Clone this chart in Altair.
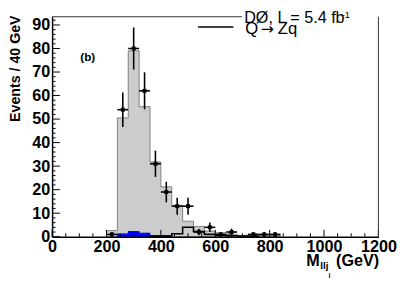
import altair as alt
import numpy as np
import pandas as pd

BIN = 40
# background (gray) histogram: bin starts and heights
bkg_start = [200, 240, 280, 320, 360, 400, 440, 480, 520, 560, 600, 640, 680, 720, 760, 800]
bkg_vals = [2.6, 50.5, 79.0, 55.3, 31.8, 21.2, 13.3, 6.6, 4.3, 2.4, 1.7, 1.0, 0.6, 0.6, 0.5, 0.5]
# blue component
blue_start = [240, 280, 320, 360, 400]
blue_vals = [1.2, 2.2, 1.5, 0.5, 0.4]
# signal Q -> Zq (black outline)
sig_start = [360, 400, 440, 480, 520, 560, 600, 640, 680, 720]
sig_vals = [0.2, 0.3, 1.3, 4.0, 2.2, 1.0, 0.6, 0.4, 0.3, 0.2]
# data points (bin centres, counts)
data_x = [220, 260, 300, 340, 380, 420, 460, 500, 540, 580, 620, 660, 740, 780, 820]
data_n = [1, 54, 80, 62, 31, 19, 13, 13, 2, 4, 1, 2, 1, 1, 1]
# ticks
x_major = [0, 200, 400, 600, 800, 1000, 1200]
x_minor = [v for v in range(0, 1201, 50) if v % 200 != 0]
y_major = [0, 10, 20, 30, 40, 50, 60, 70, 80, 90]
y_minor = [v for v in range(0, 93, 2) if v % 10 != 0]

W, H = 333, 224.5
FONT = "Liberation Sans"

xs = alt.Scale(domain=[0, 1200], nice=False, zero=False)
ys = alt.Scale(domain=[0, 93.5], nice=False)

xaxis = alt.Axis(values=x_major, labelFont=FONT, labelFontWeight="bold", labelFontSize=16.5,
                 labelColor="black", ticks=False, tickSize=0, domainColor="black", domainWidth=1.5,
                 labelPadding=2, grid=False, title=None, labelFlush=False, labelOverlap=False,
                 format="d", zindex=1)
yaxis = alt.Axis(values=y_major, labelFont=FONT, labelFontWeight="bold", labelFontSize=16.5,
                 labelColor="black", ticks=False, tickSize=0, domainColor="black", domainWidth=1.5,
                 labelPadding=2.5, grid=False, title=None, labelFlush=False, labelOverlap=False,
                 format="d", zindex=1)


def X(field):
    return alt.X(field, scale=xs, axis=xaxis)


def Y(field):
    return alt.Y(field, scale=ys, axis=yaxis)


def area_df(starts, vals):
    return pd.DataFrame({"x": starts + [starts[-1] + BIN], "y": vals + [vals[-1]]})


def line_df(starts, vals):
    end = starts[-1] + BIN
    xv = [starts[0]] + starts + [end, end]
    yv = [0] + vals + [vals[-1], 0]
    return pd.DataFrame({"x": xv, "y": yv, "i": list(range(len(xv)))})


gray = alt.Chart(area_df(bkg_start, bkg_vals)).mark_area(
    interpolate="step-after", fill="#cccccc", stroke="#808080", strokeWidth=1
).encode(x=X("x:Q"), y=Y("y:Q"))

blue = alt.Chart(area_df(blue_start, blue_vals)).mark_area(
    interpolate="step-after", fill="#0000ff", stroke="#0000ff", strokeWidth=1
).encode(x=X("x:Q"), y=Y("y:Q"))

sig = alt.Chart(line_df(sig_start, sig_vals)).mark_line(
    interpolate="step-after", color="black", strokeWidth=1.6
).encode(x=X("x:Q"), y=Y("y:Q"), order="i:Q")

pts = pd.DataFrame({"x": data_x, "n": data_n})
pts["err"] = np.sqrt(pts["n"])
pts["lo"] = pts["n"] - pts["err"]
pts["hi"] = pts["n"] + pts["err"]
pts["xl"] = pts["x"] - BIN / 2
pts["xh"] = pts["x"] + BIN / 2

vbar = alt.Chart(pts).mark_rule(color="black", strokeWidth=1.6).encode(
    x=X("x:Q"), y=Y("lo:Q"), y2="hi:Q")
hbar = alt.Chart(pts).mark_rule(color="black", strokeWidth=1.6).encode(
    x=X("xl:Q"), x2="xh:Q", y=Y("n:Q"))
marks = alt.Chart(pts).mark_square(size=16, color="black", opacity=1).encode(
    x=X("x:Q"), y=Y("n:Q"))

xt_major = alt.Chart(pd.DataFrame({"x": x_major})).mark_rule(color="black", strokeWidth=1).encode(
    x=X("x:Q"), y=alt.value(H), y2=alt.value(H - 7))
xt_minor = alt.Chart(pd.DataFrame({"x": x_minor})).mark_rule(color="black", strokeWidth=1).encode(
    x=X("x:Q"), y=alt.value(H), y2=alt.value(H - 3.5))
yt_major = alt.Chart(pd.DataFrame({"y": y_major})).mark_rule(color="black", strokeWidth=1).encode(
    y=Y("y:Q"), x=alt.value(0), x2=alt.value(8))
yt_minor = alt.Chart(pd.DataFrame({"y": y_minor})).mark_rule(color="black", strokeWidth=1).encode(
    y=Y("y:Q"), x=alt.value(0), x2=alt.value(3.5))

one = pd.DataFrame({"a": [0]})
top_line = alt.Chart(one).mark_rule(color="#333333", strokeWidth=1).encode(
    x=alt.value(0), x2=alt.value(194), y=alt.value(0))
# white legend box hiding the frame's top edge behind the legend
leg_box = alt.Chart(one).mark_rect(color="white").encode(
    x=alt.value(194), x2=alt.value(W - 0.6), y=alt.value(-2), y2=alt.value(2))
right_line = alt.Chart(one).mark_rule(color="#333333", strokeWidth=1).encode(
    x=alt.value(W), y=alt.value(0), y2=alt.value(H))
leg_line = alt.Chart(one).mark_rule(color="black", strokeWidth=1.5).encode(
    x=alt.value(149), x2=alt.value(185), y=alt.value(10.5))


def txt(s, x, y, size, weight="normal", align="left", angle=0, baseline="alphabetic", font=FONT):
    return alt.Chart(one).mark_text(
        font=font, fontSize=size, fontWeight=weight, align=align, baseline=baseline,
        angle=angle, color="black"
    ).encode(x=alt.value(x), y=alt.value(y), text=alt.value(s))


texts = [
    txt("Events / 40 GeV", -33, -1.3, 14.5, "bold", align="right", angle=270),
    txt("(b)", 28.7, 45.2, 12, "bold"),
    txt("DØ, L = 5.4 fb", 196, 6.0, 16.5),
    txt("-1", 295.5, 1.5, 9.5),
    txt("Q", 197, 17.5, 17),
    txt("→", 219.5, 17.5, 16, align="center", font="DejaVu Sans"),
    txt("Zq", 230.3, 17.5, 17),
    txt("M", 259.3, 254.7, 16.5, "bold"),
    txt("llj", 273.7, 257.5, 10, "bold"),
    txt("i", 282, 266.5, 7, "bold"),
    txt("(GeV)", 333.7, 254.7, 16.5, "bold", align="right"),
]

chart = alt.layer(
    gray, blue, sig, vbar, hbar, marks,
    xt_major, xt_minor, yt_major, yt_minor, top_line, leg_box, right_line, leg_line, *texts
).properties(
    width=W, height=H, autosize="none",
    padding={"left": 45, "top": 6, "right": 21, "bottom": 54},
    background="white",
).configure_view(strokeWidth=0)

chart.save("out.html", embed_options={"renderer": "svg", "actions": False})
